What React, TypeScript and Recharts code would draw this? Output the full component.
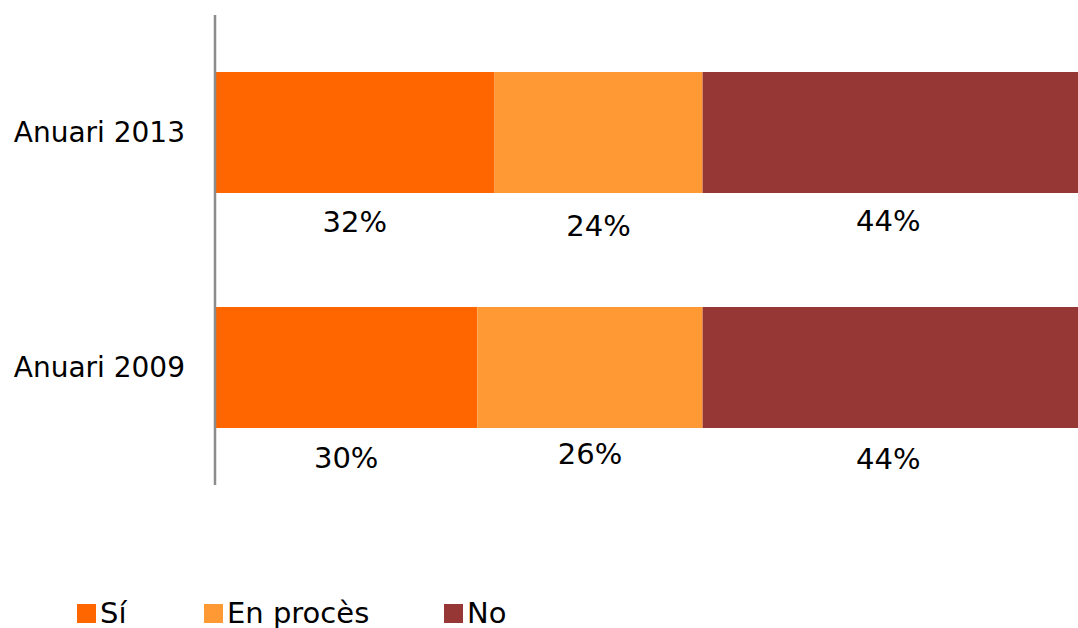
import { BarChart, Bar, XAxis, YAxis, LabelList } from 'recharts';

const years = ['Anuari 2013', 'Anuari 2009'];
const si = [32.4, 30.4];
const enProces = [24.1, 26.1];
const no = [43.5, 43.5];

const SERIES = [
  { key: 'si', name: 'Sí', color: '#FF6600' },
  { key: 'enProces', name: 'En procès', color: '#FF9933' },
  { key: 'no', name: 'No', color: '#963735' },
];

// small hand nudges for the labels under each segment (row x series)
const NUDGE = [
  [0, 3.5, -1],
  [0.5, -3, 2],
];

const FONT = '"DejaVu Sans", Verdana, sans-serif';

const data = years.map((y, i) => ({
  year: y,
  si: si[i],
  enProces: enProces[i],
  no: no[i],
}));

function makeLabel(seriesIdx: number) {
  return (props: any) => {
    const { x, y, width, height, value, index } = props;
    const cy = Number(y) + Number(height) + 29 + (NUDGE[index]?.[seriesIdx] ?? 0);
    return (
      <text
        x={Number(x) + Number(width) / 2 - (seriesIdx === 2 ? 2 : 0)}
        y={cy}
        textAnchor="middle"
        dominantBaseline="central"
        fontFamily={FONT}
        fontSize={29}
        fill="#000"
      >
        {Math.round(Number(value))}%
      </text>
    );
  };
}

export default function App() {
  return (
    <div
      style={{
        position: 'absolute',
        left: 0,
        top: 0,
        width: 1078,
        height: 628,
        background: '#fff',
        fontFamily: FONT,
      }}
    >
      <BarChart
        width={1078}
        height={500}
        data={data}
        layout="vertical"
        margin={{ top: 15, right: 0, bottom: 15, left: 0 }}
        barSize={121}
      >
        <XAxis type="number" domain={[0, 100]} hide />
        <YAxis
          type="category"
          dataKey="year"
          width={215}
          axisLine={{ stroke: '#8c8c8c', strokeWidth: 2.5 }}
          tickLine={false}
          tickMargin={24}
          tick={{ fontFamily: FONT, fontSize: 28, fill: '#000' }}
        />
        {SERIES.map((s, i) => (
          <Bar
            key={s.key}
            dataKey={s.key}
            name={s.name}
            stackId="a"
            fill={s.color}
            isAnimationActive={false}
          >
            <LabelList dataKey={s.key} content={makeLabel(i)} />
          </Bar>
        ))}
      </BarChart>
      <div
        style={{
          position: 'absolute',
          top: 597,
          left: 77,
          display: 'flex',
          alignItems: 'center',
          fontSize: 29,
          color: '#000',
          lineHeight: '32px',
        }}
      >
        {SERIES.map((s, i) => (
          <div
            key={s.key}
            style={{
              display: 'flex',
              alignItems: 'center',
              width: i === 0 ? 127 : i === 1 ? 240 : 'auto',
            }}
          >
            <span
              style={{
                display: 'inline-block',
                width: 19,
                height: 19,
                background: s.color,
                marginRight: 4,
              }}
            />
            <span>{s.name}</span>
          </div>
        ))}
      </div>
    </div>
  );
}
